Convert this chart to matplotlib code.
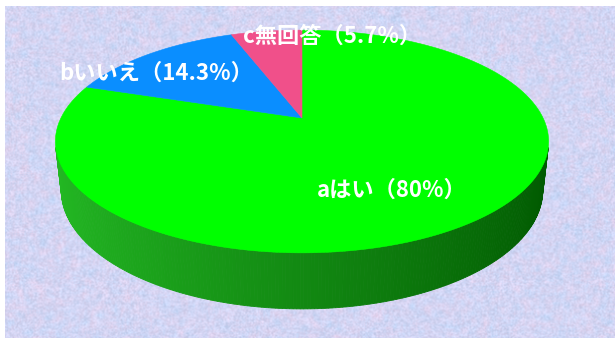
import numpy as np
import matplotlib
matplotlib.use("Agg")
import matplotlib.pyplot as plt
from matplotlib.patches import Polygon

plt.rcParams['font.family'] = ['Noto Sans CJK JP', 'DejaVu Sans']

# アンケート結果
categories = ["aはい", "bいいえ", "c無回答"]
values = [80, 14.3, 5.7]
colors = ["#00FF00", "#0A8EFF", "#F0508A"]

W, H = 615, 338
fig = plt.figure(figsize=(W / 100, H / 100), dpi=100)
ax = fig.add_axes([0, 0, 1, 1])
ax.set_xlim(0, W)
ax.set_ylim(H, 0)
ax.axis("off")

# 背景 (紙っぽいテクスチャ)
rng = np.random.default_rng(7)
def smooth(a, k):
    ker = np.ones(k) / k
    a = np.apply_along_axis(lambda r: np.convolve(r, ker, mode="same"), 1, a)
    a = np.apply_along_axis(lambda c: np.convolve(c, ker, mode="same"), 0, a)
    return a
tint = smooth(rng.random((H + 20, W + 20)), 7)[10:-10, 10:-10]
tint = (tint - tint.min()) / (tint.max() - tint.min())
grain = smooth(rng.random((H + 6, W + 6)), 2)[3:-3, 3:-3]
blue = np.array([192, 214, 248]) / 255
lav = np.array([232, 212, 238]) / 255
bg = blue[None, None, :] * (1 - tint[..., None]) + lav[None, None, :] * tint[..., None]
bg = np.clip(bg + (grain[..., None] - 0.5) * 0.14, 0, 1)
ax.add_patch(plt.Rectangle((0, 0), W, H, color="white", zorder=0))
ax.imshow(bg, extent=(5, W, H, 6), zorder=1, interpolation="bilinear")

# 3D円グラフの投影パラメータ
cx, cy = 302, 118
alpha = np.radians(26.2)
sa, ca = np.sin(alpha), np.cos(alpha)
D, f, depth = 4.256, 1026, 0.225

def proj(X, Y, Z):
    yc = Y * sa + Z * ca
    d = D + Y * ca - Z * sa
    return cx + f * X / d, cy - f * yc / d

# 側面 (手前側だけ見える)
lim = np.degrees(np.arcsin(1 / (D * ca)))
phis = np.radians(np.linspace(-180 + lim, -lim, 220))
left_c = np.array([36, 186, 36]) / 255
right_c = np.array([0, 88, 0]) / 255
for p1, p2 in zip(phis[:-1], phis[1:]):
    pts = [proj(np.cos(p1), np.sin(p1), 0), proj(np.cos(p2), np.sin(p2), 0),
           proj(np.cos(p2), np.sin(p2), -depth), proj(np.cos(p1), np.sin(p1), -depth)]
    t = (np.cos((p1 + p2) / 2) + 1) / 2
    col = left_c * (1 - t) + right_c * t
    ax.add_patch(Polygon(pts, closed=True, facecolor=col, edgecolor=col, lw=0.6, zorder=2))

# 上面 (12時から時計回り)
total = sum(values)
start = 90.0
for v, c in zip(values, colors):
    end = start - 360 * v / total
    th = np.radians(np.linspace(start, end, 200))
    pts = [proj(0, 0, 0)] + [proj(np.cos(t), np.sin(t), 0) for t in th]
    ax.add_patch(Polygon(pts, closed=True, facecolor=c, edgecolor=c, lw=0.4, zorder=3))
    start = end

# ラベル
def fmt(v):
    return f"{v:g}"
label_pos = [(392, 190), (156, 73), (332, 36)]
for cat, v, (lx, ly) in zip(categories, values, label_pos):
    ax.text(lx, ly, f"{cat}（{fmt(v)}%）", color="white", fontsize=16,
            fontweight="bold", ha="center", va="center", zorder=4)

fig.savefig("out.png", dpi=100)
